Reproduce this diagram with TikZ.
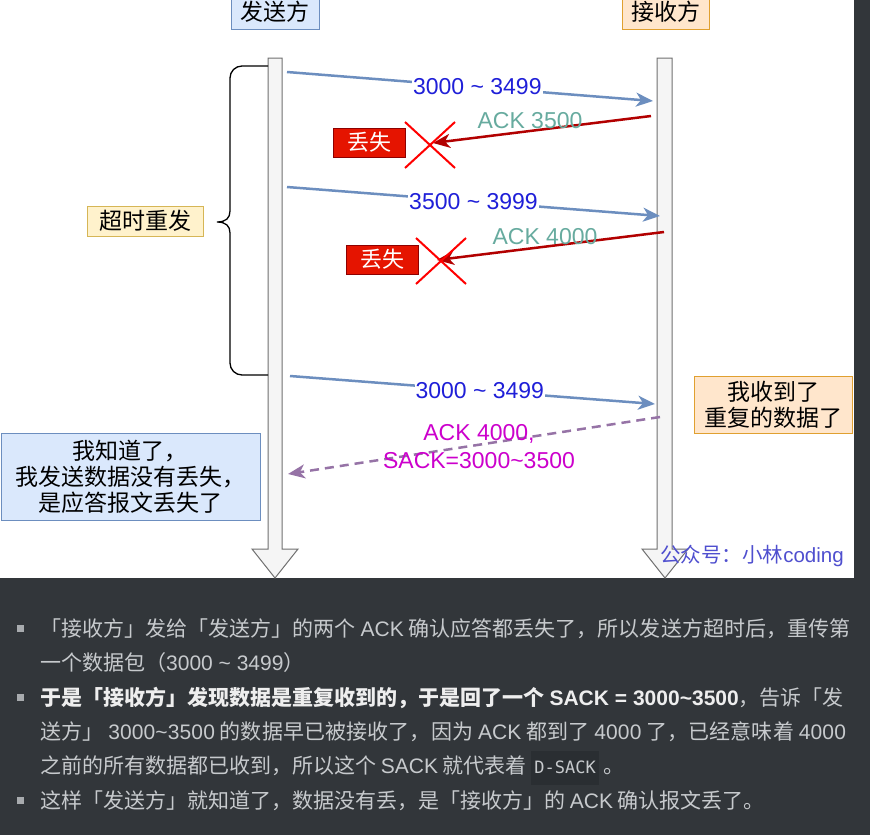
\documentclass[tikz,border=0pt]{standalone}
\usepackage{fontspec}
\setmainfont{Noto Sans CJK SC}
\newfontfamily\cjk{Noto Sans CJK SC}
\newfontfamily\lat{Liberation Sans}
\newfontfamily\mono{DejaVu Sans Mono}
\usetikzlibrary{arrows.meta}
\definecolor{bgdark}{HTML}{32363A}
\definecolor{lblue}{HTML}{DAE8FC}
\definecolor{bblue}{HTML}{6C8EBF}
\definecolor{lorange}{HTML}{FFE6CC}
\definecolor{borange}{HTML}{E0A030}
\definecolor{lyellow}{HTML}{FFF2CC}
\definecolor{byellow}{HTML}{D6B656}
\definecolor{ackred}{HTML}{B20000}
\definecolor{lossred}{HTML}{E51400}
\definecolor{xred}{HTML}{FF0000}
\definecolor{seqblue}{HTML}{1F1FD8}
\definecolor{ackgreen}{HTML}{67AB9F}
\definecolor{sackmag}{HTML}{CC00CC}
\definecolor{dashpurple}{HTML}{9673A6}
\definecolor{lifefill}{HTML}{F5F5F5}
\definecolor{lifedraw}{HTML}{707070}
\definecolor{wmblue}{HTML}{4F4FCF}
\definecolor{bodytext}{HTML}{C7CACD}
\definecolor{boldtext}{HTML}{EEEEEE}
\definecolor{codebg}{HTML}{2A2E32}
\definecolor{bulletc}{HTML}{A8ABAE}
\def\curLS{0}
\newcommand\bodyls[1]{\def\curLS{#1}\addfontfeatures{LetterSpace=#1}}
\newcommand\latx[1]{{\lat\addfontfeatures{LetterSpace=\curLS}#1}}
\tikzset{
  cjkfont/.style={font=\cjk\fontsize{23}{26}\selectfont},
  latfont/.style={font=\lat\fontsize{23}{28}\selectfont},
  hdrbox/.style={cjkfont, draw, line width=1pt, inner sep=0pt, minimum height=34pt},
  notebox/.style={cjkfont, draw, line width=1pt, inner sep=0pt, align=center},
  lossbox/.style={font=\cjk\fontsize{22}{26}\selectfont, text=white, fill=lossred, draw=ackred!80!black, line width=0.6pt, inner sep=0pt, minimum width=72pt, minimum height=29pt},
  lifeline/.style={fill=lifefill, draw=lifedraw, line width=1pt, line join=miter},
  seqline/.style={draw=bblue, line width=2.5pt, -{Stealth[length=17pt,width=14pt,inset=5pt]}},
  ackline/.style={draw=ackred, line width=2.5pt, -{Stealth[length=17pt,width=14pt,inset=5pt]}},
  sackline/.style={draw=dashpurple, line width=2.5pt, dash pattern=on 9pt off 6pt, -{Stealth[length=17pt,width=14pt,inset=5pt]}},
  seqlab/.style={latfont, text=seqblue, fill=white, inner sep=1pt},
  acklab/.style={latfont, text=ackgreen, inner sep=0pt},
  crossline/.style={draw=xred, line width=2pt},
  bracec/.style={draw=black, line width=1.3pt},
  bodyline/.style={font=\cjk\fontsize{21}{24}\selectfont, text=bodytext, anchor=base west, inner sep=0pt},
  bulletsq/.style={fill=bulletc, draw=none, minimum size=7pt, inner sep=0pt}
}
\begin{document}
\begin{tikzpicture}[x=1pt,y=-1pt]
\useasboundingbox (0,0) rectangle (870,835);
\fill[bgdark] (0,0) rectangle (870,835);
\fill[white] (0,0) rectangle (854,578);

% headers
\node[hdrbox, fill=lblue, draw=bblue, minimum width=88pt] (snd) at (275,12) {发送方};
\node[hdrbox, fill=lorange, draw=borange, minimum width=87pt] (rcv) at (665.5,12) {接收方};

% lifelines
\path[lifeline] (268,58) -- (282,58) -- (282,549) -- (298,549) -- (275,578) -- (252,549) -- (268,549) -- cycle;
\path[lifeline] (657,58) -- (672,58) -- (672,549) -- (688,549) -- (665,578) -- (642,549) -- (657,549) -- cycle;

% brace and timeout label
\draw[bracec] (268,66) [rounded corners=12pt] -- (230,66) [sharp corners] -- (230,211) .. controls (230,218) and (226,222) .. (217,222) .. controls (226,222) and (230,226) .. (230,233) [rounded corners=12pt] -- (230,375) -- (268,375);
\node[notebox, fill=lyellow, draw=byellow, minimum width=116pt, minimum height=30pt] (tout) at (145,221) {超时重发};

% endpoints
\coordinate (s1) at (287,72);  \coordinate (r1) at (653,101);
\coordinate (r2) at (651,116); \coordinate (x1) at (433,143);
\coordinate (s3) at (287,187); \coordinate (r3) at (660,216);
\coordinate (r4) at (664,232); \coordinate (x2) at (437,260);
\coordinate (s5) at (290,376); \coordinate (r5) at (655,404);
\coordinate (r6) at (660,417); \coordinate (s6) at (288,474);

% segment 1
\draw[seqline] (s1) -- node[seqlab, pos=0.52] (l1) {3000 \char`\~{} 3499} (r1);
\draw[ackline] (r2) -- (x1);
\node[acklab] (a1) at (530,121) {ACK 3500};
\draw[crossline] (405,122) -- (455,168);
\draw[crossline] (405,168) -- (455,122);
\node[lossbox] (loss1) at (369,142.5) {丢失};

% segment 2
\draw[seqline] (s3) -- node[seqlab, pos=0.50] (l3) {3500 \char`\~{} 3999} (r3);
\draw[ackline] (r4) -- (x2);
\node[acklab] (a2) at (545,237) {ACK 4000};
\draw[crossline] (416,238) -- (466,284);
\draw[crossline] (416,284) -- (466,238);
\node[lossbox] (loss2) at (382,259.5) {丢失};

% segment 3
\draw[seqline] (s5) -- node[seqlab, pos=0.52] (l5) {3000 \char`\~{} 3499} (r5);
\draw[sackline] (r6) -- (s6);
\node[latfont, text=sackmag, align=center, inner sep=0pt] (sack) at (479,447) {ACK 4000,\\SACK=3000\char`\~{}3500};

% notes
\node[notebox, fill=lorange, draw=borange, minimum width=158pt, minimum height=57pt] (dup) at (773,404.5) {我收到了\\重复的数据了};
\node[notebox, fill=lblue, draw=bblue, minimum width=259pt, minimum height=87pt] (know) at (130.5,476.5) {我知道了，\\我发送数据没有丢失，\\是应答报文丢失了};

% watermark
\node[font=\fontsize{20.5}{24}\selectfont, text=wmblue, inner sep=0pt] (wm) at (752,556) {{\cjk 公众号：小林}{\lat coding}};

% body text
\node[bulletsq] (b1) at (20.5,628.5) {};
\node[bulletsq] (b2) at (20.5,697.5) {};
\node[bulletsq] (b3) at (20.5,800.5) {};
\node[bodyline] (t1) at (40,636) {\bodyls{0.2}「接收方」发给「发送方」的两个 \latx{ACK} 确认应答都丢失了，所以发送方超时后，重传第};
\node[bodyline] (t2) at (40,670) {一个数据包（\latx{3000 \char`\~{} 3499}）};
\node[bodyline] (t3) at (40,705) {{\color{boldtext}\bfseries\bodyls{0.1}于是「接收方」发现数据是重复收到的，于是回了一个 {\latx{\bfseries SACK = 3000\char`\~{}3500}}}{\bodyls{0.1}，告诉「发}};
\node[bodyline] (t4) at (40,739) {\bodyls{0.6}送方」 \latx{3000\char`\~{}3500} 的数据早已被接收了，因为 \latx{ACK} 都到了 \latx{4000} 了，已经意味着 \latx{4000}};
\node[bodyline] (t5) at (40,773) {之前的所有数据都已收到，所以这个 \latx{SACK} 就代表着 {\setlength{\fboxsep}{3pt}\colorbox{codebg}{\rule[-9pt]{0pt}{28pt}\mono\fontsize{17}{20}\selectfont D-SACK}} 。};
\node[bodyline] (t6) at (40,808) {这样「发送方」就知道了，数据没有丢，是「接收方」的 \latx{ACK} 确认报文丢了。};
\end{tikzpicture}
\end{document}
